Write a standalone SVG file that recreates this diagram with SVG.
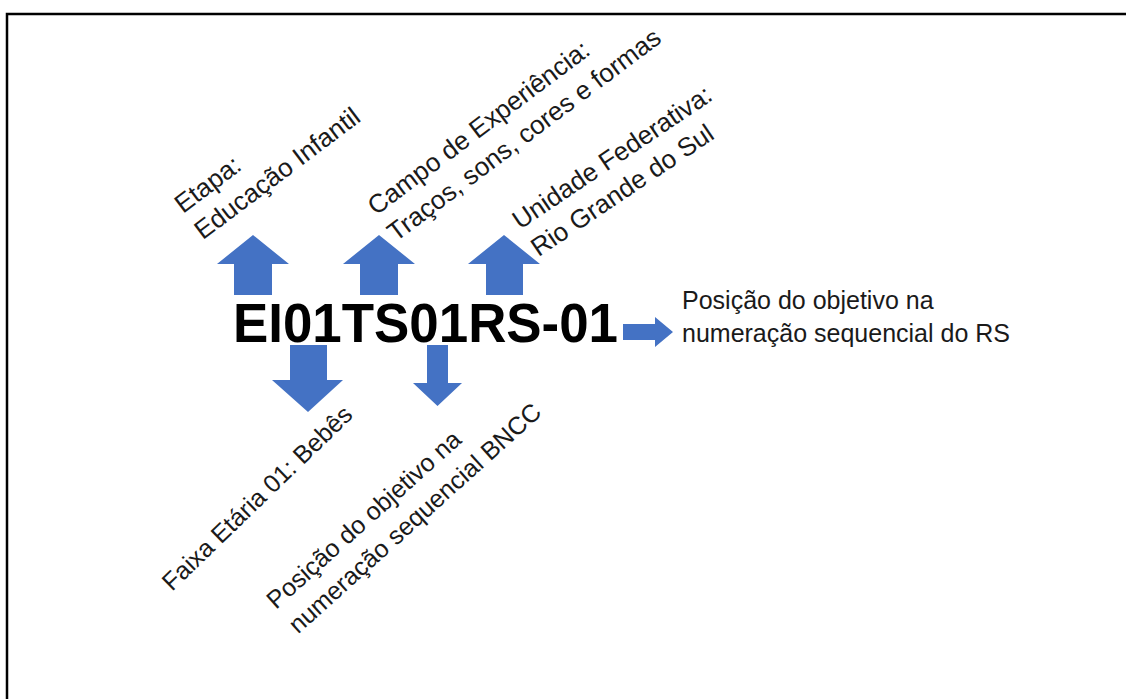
<svg xmlns="http://www.w3.org/2000/svg" width="1126" height="699" viewBox="0 0 1126 699">
<style>
.lbl{font-family:"Liberation Sans",Arial,sans-serif;font-size:25px;fill:#1a1a1a}
.up{font-size:26px}
.code{font-family:"Liberation Sans",Arial,sans-serif;font-size:56px;font-weight:bold;fill:#000}
.arr{fill:#4472C4}
</style>
<rect width="1126" height="699" fill="#fff"/>
<path d="M7,699 V14 H1126" fill="none" stroke="#000" stroke-width="2.5"/>
<g id="connectors">
<polygon class="arr" points="253,235 289,264 272,264 272,295 234,295 234,264 217,264"/>
<polygon class="arr" points="379,235 415,264 398,264 398,295 360,295 360,264 343,264"/>
<polygon class="arr" points="504,235 540,264 523,264 523,295 486,295 486,264 468,264"/>
<polygon class="arr" points="290,345 327,345 327,380 343,380 308,412 272,380 290,380"/>
<polygon class="arr" points="427,345 448,345 448,383 462,383 437.5,406 413,383 427,383"/>
<polygon class="arr" points="623,324 655,324 655,317 673,332 655,347 655,340 623,340"/>
</g>
<g id="code">
<text class="code" x="233" y="342" textLength="385" lengthAdjust="spacingAndGlyphs">EI01TS01RS-01</text>
</g>
<g id="etapa">
<text class="lbl up" transform="translate(183,214) rotate(-37)"><tspan x="0" y="0">Etapa:</tspan><tspan x="0" y="33">Educação Infantil</tspan></text>
</g>
<g id="campo">
<text class="lbl up" transform="translate(376,216) rotate(-37)"><tspan x="0" y="0">Campo de Experiência:</tspan><tspan x="0" y="33">Traços, sons, cores e formas</tspan></text>
</g>
<g id="unidade">
<text class="lbl up" transform="translate(520,230) rotate(-34)"><tspan x="0" y="0">Unidade Federativa:</tspan><tspan x="0" y="33">Rio Grande do Sul</tspan></text>
</g>
<g id="faixa">
<text class="lbl" transform="translate(172,592) rotate(-44)">Faixa Etária 01: Bebês</text>
</g>
<g id="posicao-bncc">
<text class="lbl" transform="translate(276,610) rotate(-42)"><tspan x="0" y="0">Posição do objetivo na</tspan><tspan x="0" y="33">numeração sequencial BNCC</tspan></text>
</g>
<g id="posicao-rs">
<text class="lbl" x="682" y="309">Posição do objetivo na</text>
<text class="lbl" x="682" y="342">numeração sequencial do RS</text>
</g>
</svg>
